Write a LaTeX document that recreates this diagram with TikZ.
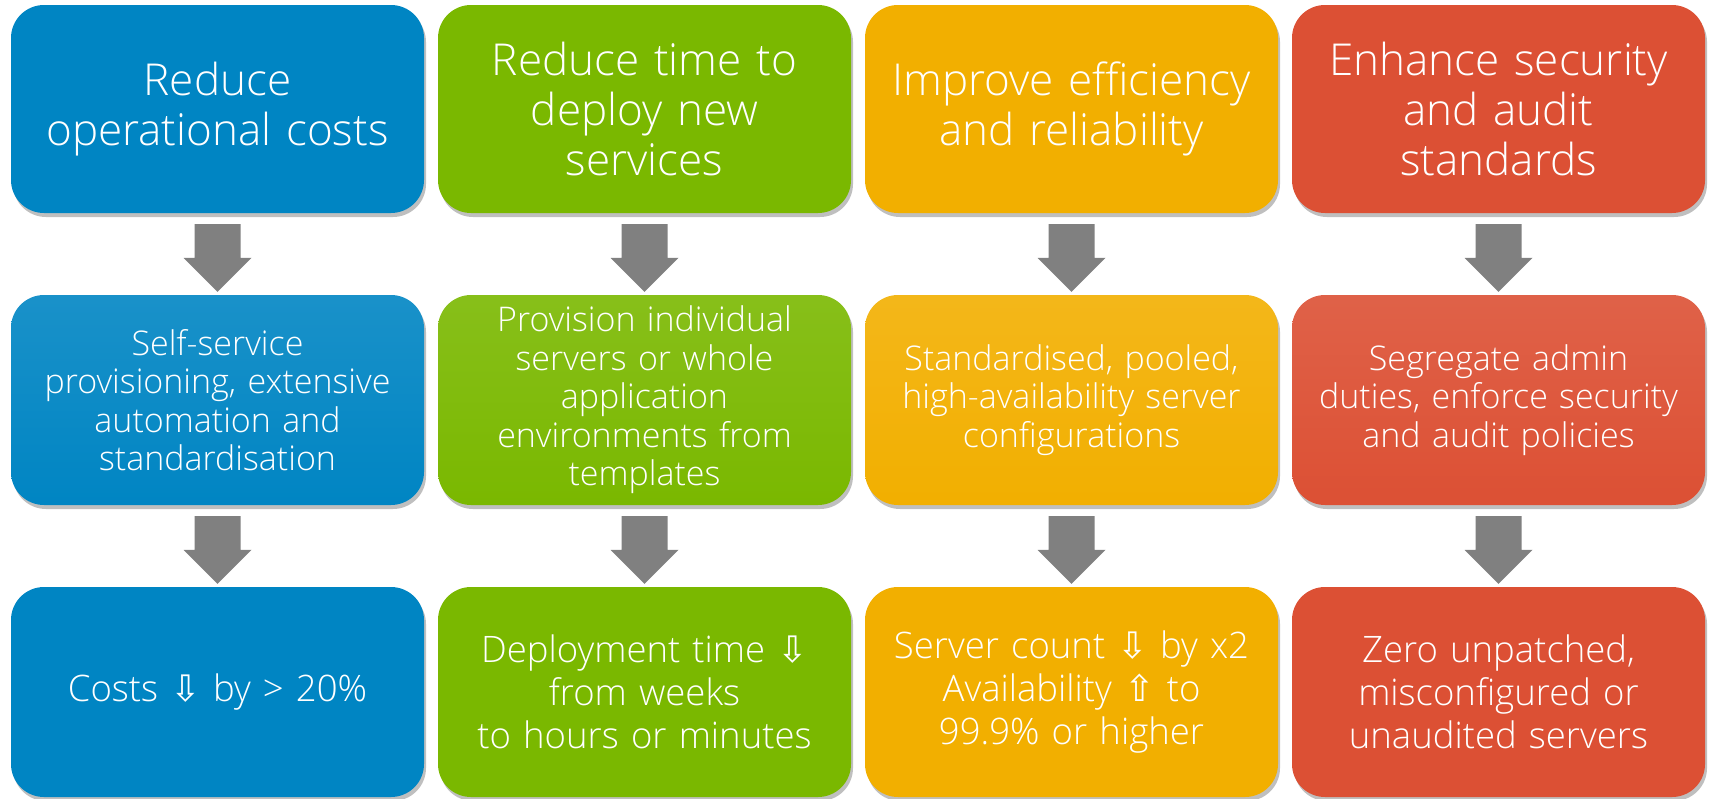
\documentclass[tikz,border=0pt]{standalone}
\usepackage{fontspec}
\setmainfont{Open Sans}[UprightFont=* Light]
\newfontfamily\symfont{DejaVu Sans}
\usetikzlibrary{calc,shadows}
\definecolor{cblue}{HTML}{0085C3}
\definecolor{cgreen}{HTML}{7AB800}
\definecolor{cyellow}{HTML}{F2AF00}
\definecolor{cred}{HTML}{DC5034}
\definecolor{arrowgray}{HTML}{808080}
\newcommand\dn{{\symfont ⇩}}
\newcommand\up{{\symfont ⇧}}
\tikzset{
  box/.style={rectangle, rounded corners=33pt, minimum width=413pt, inner sep=0pt,
    text width=411pt, align=center, text=white,
    drop shadow={shadow xshift=2pt, shadow yshift=-4pt, opacity=0.25, fill=black}},
  goalbox/.style={box, minimum height=208pt, font=\fontsize{44}{50}\selectfont},
  methodbox/.style={box, minimum height=210pt, font=\fontsize{34}{38.5}\selectfont},
  resultbox/.style={box, minimum height=210pt, font=\fontsize{36.5}{43}\selectfont},
  grad/.style={top color=#1!90!white, bottom color=#1},
  blockarrowstyle/.style={fill=arrowgray}
}
\newcommand\blockarrow[2]{%
  \path (#1.south) ++(0,11) coordinate (s) (#2.north) ++(0,-3) coordinate (t);
  \fill[blockarrowstyle] ($(s)+(-23,0)$) -- ($(s)+(23,0)$) -- ($(t)+(23,-34)$) -- ($(t)+(34,-34)$)
    -- (t) -- ($(t)+(-34,-34)$) -- ($(t)+(-23,-34)$) -- cycle;
}
\begin{document}
\begin{tikzpicture}[x=1pt,y=-1pt]
\useasboundingbox (0,0) rectangle (1712,798);
% row 1
\node[goalbox, fill=cblue] (g1) at (217.5,109) {Reduce\\operational costs};
\node[goalbox, fill=cgreen] (g2) at (644.5,109) {Reduce time to\\deploy new\\services};
\node[goalbox, fill=cyellow] (g3) at (1071.5,109) {Improve efficiency\\and reliability};
\node[goalbox, fill=cred] (g4) at (1498.5,109) {Enhance security\\and audit\\standards};
% row 2
\node[methodbox, grad=cblue] (m1) at (217.5,400) {Self-service\\provisioning, extensive\\automation and\\standardisation};
\node[methodbox, grad=cgreen] (m2) at (644.5,400) {Provision individual\\servers or whole\\application\\environments from\\templates};
\node[methodbox, grad=cyellow] (m3) at (1071.5,400) {Standardised, pooled,\\high-availability server\\configurations};
\node[methodbox, grad=cred] (m4) at (1498.5,400) {Segregate admin\\duties, enforce security\\and audit policies};
% row 3
\node[resultbox, fill=cblue] (r1) at (217.5,692) {Costs \dn{} by > 20\%};
\node[resultbox, fill=cgreen] (r2) at (644.5,692) {Deployment time \dn\\from weeks\\to hours or minutes};
\node[resultbox, fill=cyellow] (r3) at (1071.5,692) {Server count \dn{} by x2\\Availability \up{} to\\99.9\% or higher};
\node[resultbox, fill=cred] (r4) at (1498.5,692) {Zero unpatched,\\misconfigured or\\unaudited servers};
% arrows
\blockarrow{g1}{m1}\blockarrow{g2}{m2}\blockarrow{g3}{m3}\blockarrow{g4}{m4}
\blockarrow{m1}{r1}\blockarrow{m2}{r2}\blockarrow{m3}{r3}\blockarrow{m4}{r4}
\end{tikzpicture}
\end{document}
